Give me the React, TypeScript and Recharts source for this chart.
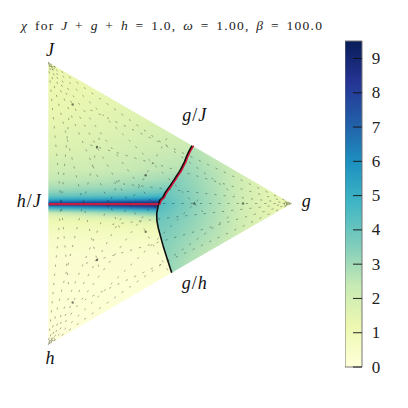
import { Bar, BarChart, Scatter, ScatterChart, XAxis, YAxis } from "recharts";

const SIZE = 408;
const MARGIN = { top: 48, right: 92, bottom: 49, left: 24 };
const X_DOMAIN = [-0.1, 1.1];
const Y_DOMAIN = [-1.1, 1.1];
const CB_MAX = 9.51;
const SERIF = { fontFamily: '"Liberation Serif", "Times New Roman", serif' };

// YlGnBu
const CMAP = ["#ffffd9", "#edf8b1", "#c7e9b4", "#7fcdbb", "#41b6c4", "#1d91c0", "#225ea8", "#253494", "#081d58"];
const CB_TICKS = [0, 1, 2, 3, 4, 5, 6, 7, 8, 9];

// chi, left phase (J/h side). One list per column.
const LEFT_ROWS = [1.0, 0.8, 0.59, 0.38, 0.237, 0.166, 0.117, 0.081, 0.053, 0.032, 0.018, -0.004, -0.025, -0.046, -0.067, -0.095, -0.131, -0.173, -0.23, -0.293, -0.4, -0.576, -1.0];
const LEFT_COLS = [-0.1, 0, 0.1, 0.2, 0.3, 0.4, 0.5, 0.6, 0.7];
const LEFT_CHI = [
  [1.2, 1.2, 1.35, 1.7, 2.1, 2.4, 2.8, 3.3, 4.0, 4.9, 6.0, 8.8, 5.4, 3.6, 2.2, 1.4, 1.1, 0.85, 0.6, 0.45, 0.28, 0.18, 0.1],
  [1.2, 1.2, 1.35, 1.7, 2.1, 2.4, 2.8, 3.3, 4.0, 4.9, 6.0, 8.8, 5.4, 3.6, 2.2, 1.4, 1.1, 0.85, 0.6, 0.45, 0.28, 0.18, 0.1],
  [1.2, 1.25, 1.4, 1.75, 2.15, 2.5, 2.9, 3.4, 4.1, 5.1, 6.2, 8.9, 5.8, 3.9, 2.5, 1.6, 1.15, 0.85, 0.6, 0.45, 0.28, 0.18, 0.1],
  [1.2, 1.3, 1.5, 1.85, 2.2, 2.6, 3.0, 3.5, 4.2, 5.2, 6.4, 9.0, 6.2, 4.2, 2.8, 1.8, 1.2, 0.9, 0.65, 0.45, 0.28, 0.18, 0.1],
  [1.3, 1.35, 1.6, 1.95, 2.3, 2.7, 3.1, 3.6, 4.3, 5.3, 6.6, 9.2, 6.7, 4.6, 3.1, 2.0, 1.3, 0.95, 0.65, 0.45, 0.28, 0.18, 0.1],
  [1.4, 1.4, 1.7, 2.1, 2.45, 2.85, 3.3, 3.8, 4.5, 5.6, 6.9, 9.3, 7.3, 5.0, 3.6, 2.4, 1.5, 1.0, 0.7, 0.5, 0.28, 0.18, 0.1],
  [1.4, 1.5, 1.8, 2.2, 2.6, 3.0, 3.5, 4.0, 4.8, 5.9, 7.2, 9.4, 7.8, 5.5, 4.0, 2.7, 1.7, 1.05, 0.75, 0.5, 0.28, 0.18, 0.1],
  [1.4, 1.5, 1.85, 2.3, 2.7, 3.1, 3.6, 4.2, 5.0, 6.1, 7.4, 9.4, 8.0, 5.7, 4.2, 2.8, 1.7, 1.05, 0.75, 0.5, 0.28, 0.18, 0.1],
  [1.4, 1.5, 1.85, 2.3, 2.7, 3.1, 3.6, 4.2, 5.0, 6.1, 7.4, 9.4, 8.0, 5.7, 4.2, 2.8, 1.7, 1.05, 0.75, 0.5, 0.28, 0.18, 0.1],
];

// right phase (g side)
const RIGHT_ROWS = [0.5, 0.4, 0.3, 0.2, 0.1, 0, -0.1, -0.2, -0.3, -0.4, -0.5];
const RIGHT_COLS = [0.36, 0.4, 0.46, 0.52, 0.58, 0.64, 0.7, 0.78, 0.86, 0.94, 1.02, 1.1];
const RIGHT_CHI = [
  [3.6, 3.6, 3.7, 3.9, 4.2, 5.0, 4.2, 3.8, 3.6, 3.5, 3.5],
  [3.6, 3.6, 3.7, 3.9, 4.2, 5.0, 4.2, 3.8, 3.6, 3.5, 3.5],
  [3.6, 3.6, 3.6, 3.8, 4.1, 4.7, 4.1, 3.7, 3.6, 3.5, 3.4],
  [3.3, 3.3, 3.4, 3.6, 3.8, 4.2, 3.8, 3.6, 3.4, 3.3, 3.2],
  [2.9, 2.9, 3.1, 3.3, 3.5, 3.7, 3.5, 3.3, 3.1, 2.9, 2.8],
  [2.6, 2.6, 2.8, 3.0, 3.2, 3.3, 3.2, 3.0, 2.8, 2.6, 2.5],
  [2.3, 2.3, 2.5, 2.7, 2.8, 2.9, 2.8, 2.7, 2.5, 2.3, 2.3],
  [2.0, 2.0, 2.1, 2.2, 2.3, 2.3, 2.3, 2.2, 2.1, 2.0, 2.0],
  [1.7, 1.7, 1.7, 1.8, 1.8, 1.8, 1.8, 1.8, 1.7, 1.7, 1.7],
  [1.4, 1.4, 1.4, 1.4, 1.45, 1.45, 1.45, 1.4, 1.4, 1.4, 1.4],
  [1.1, 1.1, 1.1, 1.1, 1.1, 1.1, 1.1, 1.1, 1.1, 1.1, 1.1],
  [1.0, 1.0, 1.0, 1.0, 1.0, 1.0, 1.0, 1.0, 1.0, 1.0, 1.0],
];

// phase boundaries, x = g, y = J - h
const UPPER_X = [0.452, 0.459, 0.472, 0.48, 0.489, 0.5, 0.509, 0.52, 0.529, 0.541, 0.549, 0.561, 0.567, 0.578, 0.584, 0.592];
const UPPER_Y = [-0.011, 0.022, 0.042, 0.072, 0.095, 0.12, 0.145, 0.172, 0.198, 0.228, 0.255, 0.296, 0.325, 0.366, 0.385, 0.409];
const LOWER_X = [0.452, 0.4455, 0.446, 0.452, 0.4725, 0.49, 0.507];
const LOWER_Y = [-0.011, -0.069, -0.12, -0.175, -0.305, -0.4, -0.489];
const CRITICAL_X = [0.002, 0.452];
const CRITICAL_Y = [-0.004, -0.004];

// sample rays: one fan out of every corner, [J, g, h] corners
const CORNERS = [[1, 0, 0], [0, 1, 0], [0, 0, 1]];
const FAN_RATIOS = [0.1, 0.25, 0.4, 0.5, 0.6, 0.75, 0.9];
const FAN_REACH = [0.85, 0.85, 0.75, 1, 0.75, 0.85, 0.85];
const FAN_DASH_OFFSET = [0, 3.1, 6.2, 1.4, 4.6, 7.7, 2.3];
const HEAVY_DOTS = [[0.8, 0.1, 0.1], [0.6, 0.2, 0.2], [0.4, 0.4, 0.2], [0.2, 0.6, 0.2], [0.1, 0.8, 0.1], [0.2, 0.4, 0.4], [0.2, 0.2, 0.6], [0.1, 0.1, 0.8]];
const CORNER_MARKS = [[0.985, 0.008, 0.007], [0.97, 0.02, 0.01], [0.007, 0.985, 0.008], [0.01, 0.975, 0.015], [0.007, 0.008, 0.985], [0.01, 0.02, 0.97]];

const LABEL_TEXT = ["J", "h", "g", "h/J", "g/J", "g/h"];
const LABEL_X = [0.007, 0.007, 1.06, -0.08, 0.6, 0.6];
const LABEL_Y = [1.087, -1.09, 0.015, 0.015, 0.626, -0.56];

const plotW = SIZE - MARGIN.left - MARGIN.right;
const plotH = SIZE - MARGIN.top - MARGIN.bottom;
const px = (x: number) => MARGIN.left + ((x - X_DOMAIN[0]) / (X_DOMAIN[1] - X_DOMAIN[0])) * plotW;
const py = (y: number) => MARGIN.top + ((Y_DOMAIN[1] - y) / (Y_DOMAIN[1] - Y_DOMAIN[0])) * plotH;

const toPoint = ([j, g, h]: number[]) => ({ x: g, y: j - h });
const zip = (xs: number[], ys: number[]) => xs.map((x, i) => ({ x, y: ys[i] }));

function chiColor(v: number) {
  const t = Math.min(Math.max(v / CB_MAX, 0), 1) * (CMAP.length - 1);
  const i = Math.min(Math.floor(t), CMAP.length - 2);
  const f = t - i;
  const a = CMAP[i];
  const b = CMAP[i + 1];
  const ch = (s: string, k: number) => parseInt(s.slice(1 + 2 * k, 3 + 2 * k), 16);
  const c = [0, 1, 2].map((k) => Math.round(ch(a, k) + (ch(b, k) - ch(a, k)) * f));
  return `rgb(${c[0]},${c[1]},${c[2]})`;
}

const rays = CORNERS.flatMap((corner, c) => {
  const a = CORNERS[(c + 1) % 3];
  const b = CORNERS[(c + 2) % 3];
  return FAN_RATIOS.map((f, i) => {
    const t = FAN_REACH[i];
    const end = corner.map((v, k) => v * (1 - t) + t * (f * a[k] + (1 - f) * b[k]));
    return { points: [toPoint(corner), toPoint(end)], offset: FAN_DASH_OFFSET[i] + c };
  });
});

const upper = zip(UPPER_X, UPPER_Y);
const lower = zip(LOWER_X, LOWER_Y);
const polygon = (pts: { x: number; y: number }[]) => pts.map((p) => `${px(p.x)},${py(p.y)}`).join(" ");
const leftClip = polygon([{ x: 0, y: 1 }, ...[...upper].reverse(), ...lower, { x: 0, y: -1 }]);
const rightClip = polygon([...upper, { x: 1, y: 0 }, ...[...lower].reverse()]);

const NoDot = () => <g />;
const Strip = (prefix: string) => (props: any) => (
  <rect x={props.cx - 14} y={MARGIN.top} width={28} height={plotH} fill={`url(#${prefix}${props.payload.col})`} />
);
const HeavyDot = (props: any) => <circle cx={props.cx} cy={props.cy} r={1.2} fill="#000" fillOpacity={0.5} />;
const CornerMark = (props: any) => (
  <rect x={props.cx - 1.2} y={props.cy - 1.2} width={2.4} height={2.4} fill="none" stroke="#000" strokeOpacity={0.3} strokeWidth={0.6} />
);
const LabelText = (props: any) => {
  const [a, b] = String(props.payload.text).split("/");
  return (
    <text x={props.cx} y={props.cy} textAnchor="middle" dominantBaseline="central" style={{ ...SERIF, fontSize: 18 }} fill="#111">
      <tspan fontStyle="italic">{a}</tspan>
      {b && <tspan dx={1}>/</tspan>}
      {b && <tspan dx={1} fontStyle="italic">{b}</tspan>}
    </text>
  );
};

const GradientColumns = ({ prefix, rows, chi }: { prefix: string; rows: number[]; chi: number[][] }) => (
  <>
    {chi.map((col, c) => (
      <linearGradient key={c} id={`${prefix}${c}`} x1="0" y1="0" x2="0" y2="1">
        {col.map((v, r) => (
          <stop key={r} offset={(Y_DOMAIN[1] - rows[r]) / (Y_DOMAIN[1] - Y_DOMAIN[0])} stopColor={chiColor(v)} />
        ))}
      </linearGradient>
    ))}
  </>
);

const CbTick = (props: any) => (
  <g>
    <line x1={8} x2={17} y1={props.y} y2={props.y} stroke="#111" strokeWidth={0.9} />
    <text x={31} y={props.y} textAnchor="middle" dominantBaseline="central" style={{ ...SERIF, fontSize: 17 }} fill="#222">
      {props.payload.value}
    </text>
  </g>
);

const css = `
.phase-left { filter: url(#blurX); clip-path: url(#leftClip); }
.phase-right { filter: url(#blurX); clip-path: url(#rightClip); }
`;

const CB_DATA = [{ name: "chi", top: CB_MAX }];
const CB_MARGIN = { top: 41, right: 0, bottom: 41, left: 0 };

export default function App() {
  return (
    <div style={{ position: "absolute", left: 0, top: 0, width: SIZE, height: SIZE, background: "#fff" }}>
      <style>{css}</style>
      <div style={{ position: "absolute", left: 0, top: 0 }}>
        <ScatterChart width={SIZE} height={SIZE} margin={MARGIN}>
          <defs>
            <filter id="blurX" filterUnits="userSpaceOnUse" x="0" y="0" width={SIZE} height={SIZE} colorInterpolationFilters="sRGB">
              <feGaussianBlur stdDeviation="9 0" />
            </filter>
            <clipPath id="leftClip">
              <polygon points={leftClip} />
            </clipPath>
            <clipPath id="rightClip">
              <polygon points={rightClip} />
            </clipPath>
            <GradientColumns prefix="lc" rows={LEFT_ROWS} chi={LEFT_CHI} />
            <GradientColumns prefix="rc" rows={RIGHT_ROWS} chi={RIGHT_CHI} />
          </defs>
          <XAxis type="number" dataKey="x" domain={X_DOMAIN} hide />
          <YAxis type="number" dataKey="y" domain={Y_DOMAIN} hide />
          <Scatter className="phase-left" data={LEFT_COLS.map((x, col) => ({ x, y: 0, col }))} shape={Strip("lc")} isAnimationActive={false} />
          <Scatter className="phase-right" data={RIGHT_COLS.map((x, col) => ({ x, y: 0, col }))} shape={Strip("rc")} isAnimationActive={false} />
          {rays.map((ray, i) => (
            <Scatter
              key={i}
              data={ray.points}
              shape={NoDot}
              fill="none"
              line={{ stroke: "#000", strokeOpacity: 0.36, strokeWidth: 0.9, strokeDasharray: "2.2 7", strokeDashoffset: ray.offset }}
              isAnimationActive={false}
            />
          ))}
          <Scatter data={HEAVY_DOTS.map(toPoint)} shape={HeavyDot} isAnimationActive={false} />
          <Scatter data={CORNER_MARKS.map(toPoint)} shape={CornerMark} isAnimationActive={false} />
          <Scatter data={upper} shape={NoDot} fill="none" line={{ stroke: "#111", strokeWidth: 2.2 }} isAnimationActive={false} />
          <Scatter data={lower} shape={NoDot} fill="none" line={{ stroke: "#111", strokeWidth: 1.6 }} isAnimationActive={false} />
          <Scatter
            data={UPPER_X.map((x, i) => ({ x: x + 0.005, y: UPPER_Y[i] }))}
            shape={NoDot}
            fill="none"
            line={{ stroke: "#d6163a", strokeWidth: 1.4 }}
            isAnimationActive={false}
          />
          <Scatter data={zip(CRITICAL_X, CRITICAL_Y)} shape={NoDot} fill="none" line={{ stroke: "#c41e45", strokeWidth: 2.3 }} isAnimationActive={false} />
          <Scatter data={LABEL_TEXT.map((text, i) => ({ x: LABEL_X[i], y: LABEL_Y[i], text }))} shape={LabelText} isAnimationActive={false} />
          <text x={21} y={30} textLength={301} lengthAdjust="spacing" style={{ ...SERIF, fontSize: 13.5, wordSpacing: 2 }} fill="#222">
            <tspan fontStyle="italic">χ</tspan> for <tspan fontStyle="italic">J</tspan> + <tspan fontStyle="italic">g</tspan> + <tspan fontStyle="italic">h</tspan> = 1.0, <tspan fontStyle="italic">ω</tspan> = 1.00, <tspan fontStyle="italic">β</tspan> = 100.0
          </text>
        </ScatterChart>
      </div>
      <div style={{ position: "absolute", left: 345, top: 0 }}>
        <BarChart width={63} height={SIZE} data={CB_DATA} margin={{ ...CB_MARGIN, right: 46 }} barCategoryGap={0}>
          <defs>
            <linearGradient id="cb" x1="0" y1="1" x2="0" y2="0">
              {CMAP.map((c, i) => (
                <stop key={c} offset={i / (CMAP.length - 1)} stopColor={c} />
              ))}
            </linearGradient>
          </defs>
          <XAxis dataKey="name" hide />
          <YAxis domain={[0, CB_MAX]} hide />
          <Bar dataKey="top" fill="url(#cb)" stroke="#777" strokeWidth={1} isAnimationActive={false} />
        </BarChart>
      </div>
      <div style={{ position: "absolute", left: 345, top: 0 }}>
        <BarChart width={63} height={SIZE} data={CB_DATA} margin={CB_MARGIN} barCategoryGap={0}>
          <XAxis dataKey="name" hide />
          <YAxis orientation="right" width={46} domain={[0, CB_MAX]} ticks={CB_TICKS} axisLine={false} tickLine={false} tick={CbTick} interval={0} />
          <Bar dataKey="top" fill="none" stroke="none" isAnimationActive={false} />
        </BarChart>
      </div>
    </div>
  );
}
